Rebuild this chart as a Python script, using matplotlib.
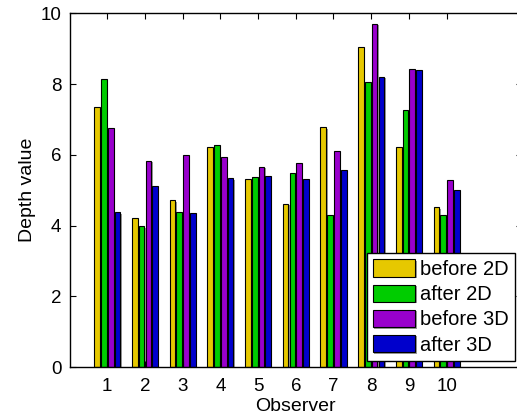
import matplotlib
matplotlib.use("Agg")
import matplotlib.pyplot as plt
import matplotlib.patheffects as pe
import numpy as np

plt.rcParams["font.family"] = ["Liberation Sans", "DejaVu Sans"]

# Data
observers = np.arange(1, 11)
before_2d = [7.36, 4.22, 4.71, 6.23, 5.31, 4.62, 6.78, 9.05, 6.23, 4.51]
after_2d = [8.13, 3.98, 4.39, 6.28, 5.36, 5.48, 4.31, 8.05, 7.28, 4.31]
before_3d = [6.76, 5.83, 5.98, 5.93, 5.66, 5.78, 6.10, 9.71, 8.43, 5.28]
after_3d = [4.37, 5.13, 4.34, 5.33, 5.40, 5.31, 5.58, 8.20, 8.41, 5.01]

labels = ["before 2D", "after 2D", "before 3D", "after 3D"]
colors = ["#E6C800", "#00CC00", "#9900CC", "#0000CC"]
series = [before_2d, after_2d, before_3d, after_3d]

fig = plt.figure(figsize=(5.17, 4.17), dpi=100)
ax = fig.add_axes([69.6 / 517, 50 / 417, 452.4 / 517, 353.7 / 417])

offsets = [-0.27, -0.09, 0.09, 0.27]
shadow = [pe.SimplePatchShadow(offset=(1, -1), shadow_rgbFace="#999999", alpha=1.0), pe.Normal()]
for vals, off, col, lab in zip(series, offsets, colors, labels):
    bars = ax.bar(observers + off, vals, width=0.15, color=col,
                  edgecolor="black", linewidth=0.8, label=lab)
    for b in bars:
        b.set_path_effects(shadow)

ax.set_xlim(0, 12)
ax.set_ylim(0, 10)
ax.set_xticks(observers)
ax.set_yticks([0, 2, 4, 6, 8, 10])
ax.tick_params(direction="in", length=4, labelsize=13.5, top=True, right=True)
ax.tick_params(axis="x", pad=8)
ax.tick_params(axis="y", pad=6)
for s in ax.spines.values():
    s.set_linewidth(1.0)

ax.set_xlabel("Observer", fontsize=14, labelpad=2)
ax.set_ylabel("Depth value", fontsize=14, labelpad=3)

leg = ax.legend(loc="lower right", bbox_to_anchor=(515 / 517, 56.3 / 417),
                bbox_transform=fig.transFigure, fontsize=14.5, frameon=True,
                fancybox=False, handlelength=2.1, handleheight=0.95,
                handletextpad=0.25, labelspacing=0.28, borderpad=0.3,
                borderaxespad=0)
leg.get_frame().set_edgecolor("black")
leg.get_frame().set_linewidth(1.0)
leg.get_frame().set_alpha(1.0)

fig.savefig("out.png", dpi=100)
